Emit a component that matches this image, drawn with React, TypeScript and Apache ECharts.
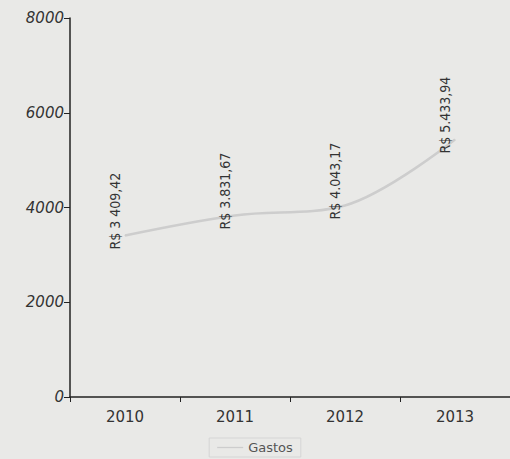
import React, { useEffect, useRef } from "react";
import * as echarts from "echarts";

const categories = ["2010", "2011", "2012", "2013"];
const gastos = [3409.42, 3831.67, 4043.17, 5433.94];
const valueLabels = ["R$ 3 409,42", "R$ 3.831,67", "R$ 4.043,17", "R$ 5.433,94"];

export default function App() {
  const ref = useRef<HTMLDivElement>(null);
  useEffect(() => {
    if (!ref.current) return;
    const chart = echarts.init(ref.current, undefined, { renderer: "svg" });
    chart.setOption({
      animation: false,
      backgroundColor: "#e9e9e7",
      textStyle: { fontFamily: "DejaVu Sans" },
      grid: { left: 70, right: 0, top: 18, bottom: 62 },
      legend: {
        bottom: 2,
        left: "center",
        data: ["Gastos"],
        icon: "path://M0,5 L20,5 L20,6 L0,6 Z",
        itemWidth: 26,
        itemHeight: 6,
        textStyle: { color: "#555", fontSize: 13 },
        borderColor: "#d5d5d5",
        borderWidth: 1,
        padding: [3, 8],
      },
      xAxis: {
        type: "category",
        data: categories,
        boundaryGap: true,
        axisLine: { show: true, lineStyle: { color: "#222", width: 1.5 } },
        axisTick: { show: true, alignWithLabel: false, length: 5, lineStyle: { color: "#222" } },
        axisLabel: { color: "#333", fontSize: 15, margin: 12 },
        splitLine: { show: false },
      },
      yAxis: {
        type: "value",
        min: 0,
        max: 8000,
        interval: 2000,
        axisLine: { show: true, lineStyle: { color: "#222", width: 1.5 } },
        axisTick: { show: true, length: 6, lineStyle: { color: "#222" } },
        axisLabel: {
          color: "#333",
          fontSize: 15,
          fontStyle: "italic",
          margin: 6,
          formatter: (v: number) => String(v),
        },
        splitLine: { show: false },
      },
      series: [
        {
          name: "Gastos",
          type: "line",
          data: gastos,
          smooth: 0.35,
          symbol: "circle",
          symbolSize: 1,
          showSymbol: true,
          lineStyle: { color: "#cdcdcd", width: 2.5 },
          itemStyle: { color: "#cdcdcd" },
          label: {
            show: true,
            position: "inside",
            rotate: 90,
            align: "left",
            verticalAlign: "middle",
            offset: [-14, -10],
            color: "#333",
            fontSize: 14,
            fontFamily: "DejaVu Sans Condensed",
            formatter: (p: any) => valueLabels[p.dataIndex],
          },
        },
      ],
    });
    return () => chart.dispose();
  }, []);
  return (
    <div
      ref={ref}
      style={{ position: "absolute", left: 0, top: 0, width: 510, height: 459 }}
    />
  );
}
